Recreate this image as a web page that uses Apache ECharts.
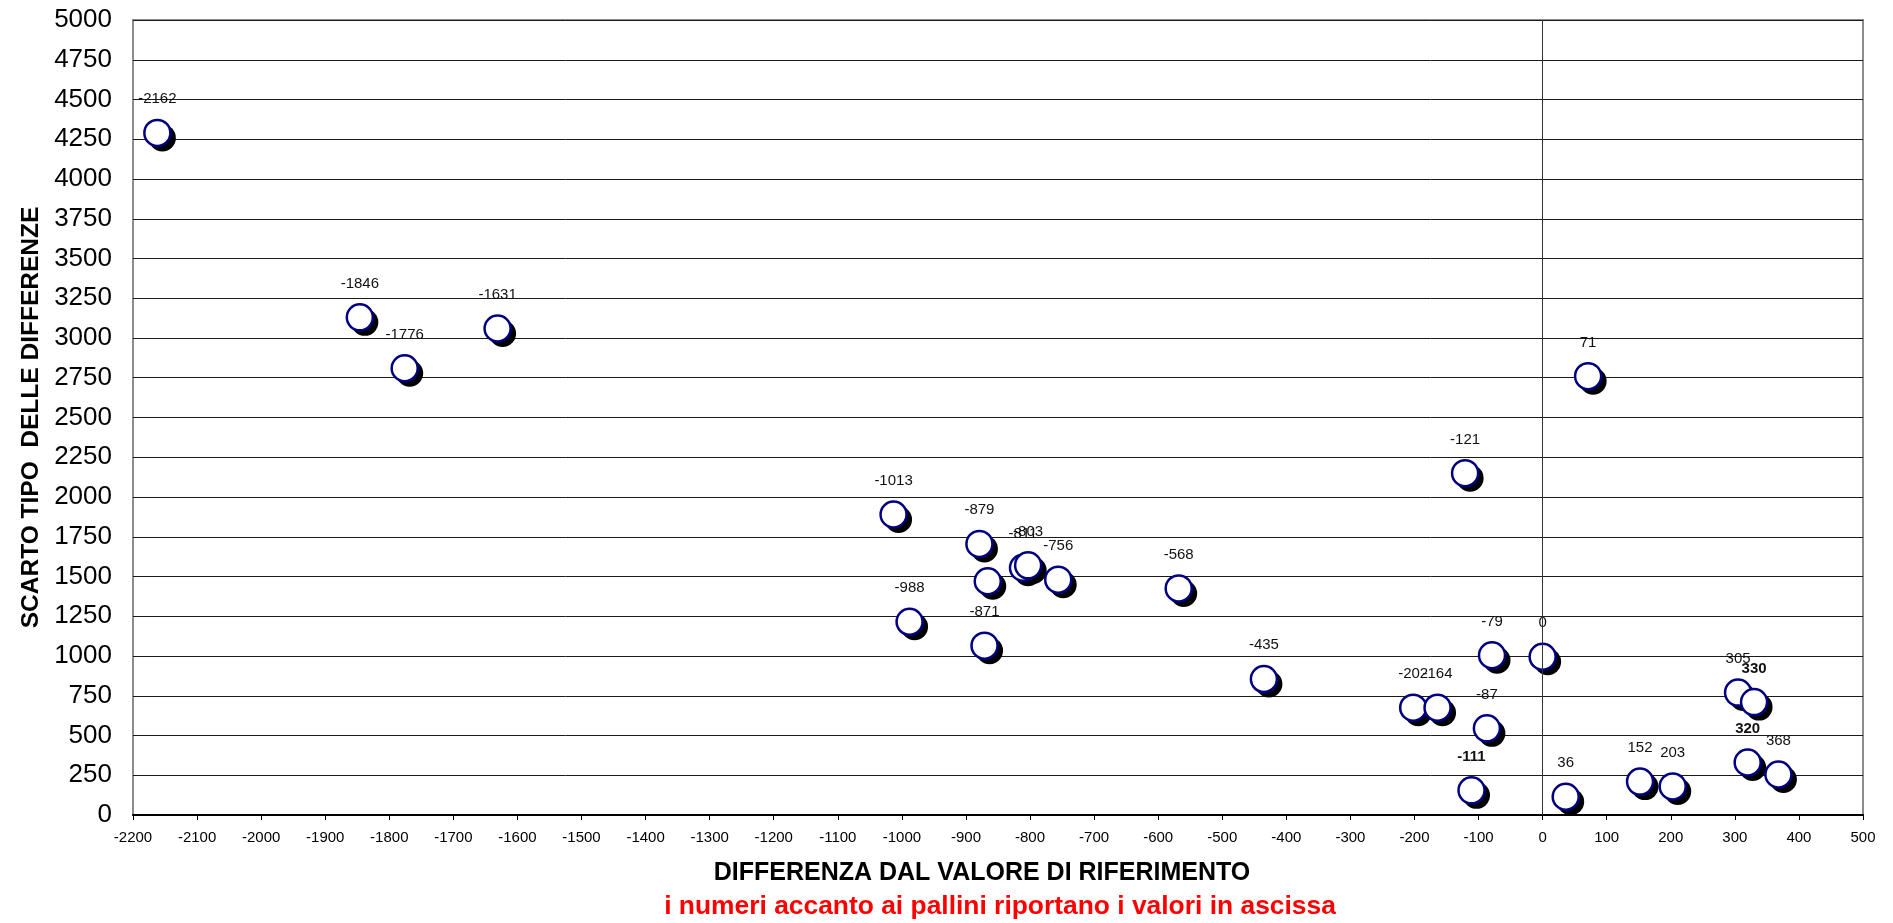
<!DOCTYPE html>
<html>
<head>
<meta charset="utf-8">
<script src="https://cdn.jsdelivr.net/npm/echarts@6/dist/echarts.min.js"></script>
<style>
  html, body { margin: 0; padding: 0; background: #fff; }
  #chart { width: 1893px; height: 923px; }
</style>
</head>
<body>
<div id="chart"></div>
<script>
// Difference from the reference value (x) and standard deviation of the differences (y)
const diffValues = [-2162, -1846, -1776, -1631, -1013, -988, -879, -871, -866, -811, -803, -756, -568, -435,
  -202, -164, -121, -111, -87, -79, 0, 36, 71, 152, 203, 305, 320, 330, 368];
const stdDevValues = [4290, 3130, 2810, 3060, 1890, 1215, 1705, 1065, 1470, 1555, 1570, 1480, 1425, 855,
  675, 675, 2150, 155, 545, 1005, 995, 115, 2760, 210, 180, 770, 330, 710, 255];
// points whose value label is not shown / is printed twice on top of itself
const unlabeledPoints = [-866];
const doubledLabels = [-111, 320, 330];

const xTicks = { min: -2200, max: 500, step: 100 };
const yTicks = { min: 0, max: 5000, step: 250 };

const FONT = '"Liberation Sans", Arial, Helvetica, sans-serif';

const points = diffValues.map((x, i) => {
  const item = { value: [x, stdDevValues[i]] };
  if (unlabeledPoints.includes(x)) item.label = { show: false };
  else if (doubledLabels.includes(x)) item.label = { fontWeight: 'bold' };
  return item;
});
const shadowPoints = diffValues.map((x, i) => [x, stdDevValues[i]]);

const chart = echarts.init(document.getElementById('chart'));
chart.setOption({
  animation: false,
  backgroundColor: '#ffffff',
  grid: {
    left: 133, right: 30, top: 20, bottom: 108,
    show: true, borderColor: '#8c8c8c', borderWidth: 2, backgroundColor: 'transparent'
  },
  xAxis: {
    type: 'value',
    min: xTicks.min, max: xTicks.max, interval: xTicks.step,
    axisLine: { show: true, onZero: false, lineStyle: { color: '#000', width: 2 } },
    axisTick: { show: true, length: 5, lineStyle: { color: '#000', width: 1 } },
    axisLabel: { fontFamily: FONT, fontSize: 15, color: '#000', margin: 15, formatter: v => String(v) },
    splitLine: { show: false }
  },
  yAxis: {
    type: 'value',
    min: yTicks.min, max: yTicks.max, interval: yTicks.step,
    name: 'SCARTO TIPO  DELLE DIFFERENZE',
    nameLocation: 'middle', nameRotate: 90, nameGap: 85,
    nameTextStyle: { fontFamily: FONT, fontSize: 24.5, fontWeight: 'bold', color: '#000' },
    axisLine: { show: false },
    axisTick: { show: false },
    axisLabel: { fontFamily: FONT, fontSize: 26, color: '#000', margin: 21, formatter: v => String(v) },
    splitLine: { show: true, lineStyle: { color: '#1a1a1a', width: 1 } }
  },
  graphic: [
    {
      type: 'text', x: 982, y: 873,
      style: {
        text: 'DIFFERENZA DAL VALORE DI RIFERIMENTO',
        font: 'bold 25px ' + FONT, fill: '#000',
        align: 'center', verticalAlign: 'middle'
      }
    },
    {
      type: 'text', x: 1000, y: 907,
      style: {
        text: 'i numeri accanto ai pallini riportano i valori in ascissa',
        font: 'bold 26.4px ' + FONT, fill: '#ff0000',
        align: 'center', verticalAlign: 'middle'
      }
    }
  ],
  series: [
    {
      // dark drop shadow under each marker
      type: 'scatter', z: 2, silent: true,
      data: shadowPoints,
      symbol: 'circle', symbolSize: 27, symbolOffset: [5, 5],
      itemStyle: { color: '#000', opacity: 1 },
      markLine: {
        silent: true, symbol: 'none', label: { show: false },
        lineStyle: { color: '#333', width: 1, type: 'solid' },
        data: [{ xAxis: 0 }]
      }
    },
    {
      type: 'scatter', z: 3,
      data: points,
      symbol: 'circle', symbolSize: 26,
      itemStyle: { color: '#ffffff', borderColor: '#000080', borderWidth: 2.5, opacity: 1 },
      label: {
        show: true, position: 'top', distance: 12,
        formatter: p => String(p.value[0]),
        fontFamily: FONT, fontSize: 15, color: '#111'
      }
    }
  ]
});
</script>
</body>
</html>
